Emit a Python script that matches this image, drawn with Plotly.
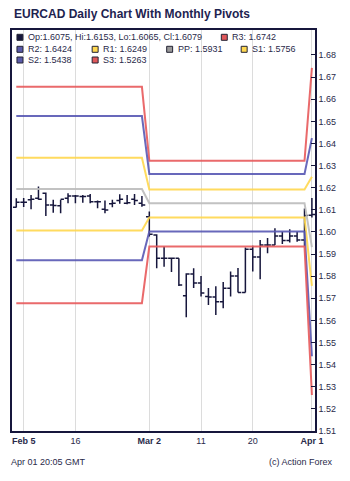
import plotly.graph_objects as go

# ---------------- data ----------------
bar_index = list(range(41))
opens = [1.6112, 1.6134, 1.6145, 1.6152, 1.6175, 1.6122, 1.6118, 1.6152, 1.6163, 1.6160,
         1.6163, 1.6137, 1.6103, 1.6127, 1.6142, 1.6130, 1.6148, 1.6130,
         1.6069, 1.5986, 1.5881, 1.5881, 1.5881, 1.5711, 1.5810, 1.5769, 1.5708, 1.5706,
         1.5684, 1.5745, 1.5801, 1.5726, 1.5922, 1.5887, 1.5941, 1.5941, 1.5982, 1.5961,
         1.5982, 1.5964, 1.6075]
highs = [1.6152, 1.6154, 1.6167, 1.6205, 1.6178, 1.6145, 1.6145, 1.6175, 1.6167, 1.6167,
         1.6172, 1.6142, 1.6142, 1.6145, 1.6170, 1.6167, 1.6172, 1.6163,
         1.6092, 1.5990, 1.5934, 1.5881, 1.5881, 1.5813, 1.5836, 1.5801, 1.5747, 1.5754,
         1.5774, 1.5821, 1.5837, 1.5930, 1.5937, 1.5964, 1.5973, 1.6017, 1.6001, 1.6012,
         1.6001, 1.6106, 1.6153]
lows = [1.6110, 1.6113, 1.6103, 1.6145, 1.6072, 1.6087, 1.6085, 1.6130, 1.6130, 1.6132,
        1.6130, 1.6107, 1.6085, 1.6112, 1.6127, 1.6125, 1.6122, 1.6114,
        1.5979, 1.5836, 1.5843, 1.5819, 1.5756, 1.5614, 1.5747, 1.5708, 1.5670, 1.5625,
        1.5655, 1.5708, 1.5726, 1.5726, 1.5821, 1.5786, 1.5904, 1.5941, 1.5946, 1.5952,
        1.5956, 1.5934, 1.6065]
closes = [1.6134, 1.6134, 1.6148, 1.6148, 1.6122, 1.6119, 1.6148, 1.6163, 1.6163, 1.6160,
          1.6137, 1.6137, 1.6099, 1.6130, 1.6148, 1.6132, 1.6142, 1.6122,
          1.5990, 1.5881, 1.5881, 1.5881, 1.5760, 1.5810, 1.5769, 1.5724, 1.5706, 1.5684,
          1.5745, 1.5801, 1.5726, 1.5922, 1.5887, 1.5941, 1.5941, 1.5982, 1.5961, 1.5982,
          1.5964, 1.6074, 1.6079]

# month of each bar: 0 = Feb, 1 = Mar, 2 = Apr
bar_month = [0] * 18 + [1] * 22 + [2]

pivot_names = ["R3", "R2", "R1", "PP", "S1", "S2", "S3"]
pivots_feb = [1.6656, 1.6524, 1.6335, 1.6194, 1.6006, 1.5872, 1.5678]
pivots_mar = [1.6322, 1.6262, 1.6192, 1.6130, 1.6065, 1.6002, 1.5934]
pivots_apr = [1.6742, 1.6424, 1.6249, 1.5931, 1.5756, 1.5438, 1.5263]

tick_positions = [1, 8, 18, 25, 32, 40]
tick_labels = ["<b>Feb 5</b>", "16", "<b>Mar 2</b>", "11", "20", "<b>Apr 1</b>"]
y_ticks = [1.51, 1.52, 1.53, 1.54, 1.55, 1.56, 1.57, 1.58, 1.59, 1.60,
           1.61, 1.62, 1.63, 1.64, 1.65, 1.66, 1.67, 1.68]

# ---------------- styles ----------------
NAVY = "#16163c"
TEXT = "#2a2a4a"
FONT = "Arial, Liberation Sans, sans-serif"
pivot_colors = ["#e85a5c", "#5858b4", "#ffd84e", "#bcbcbc", "#ffd84e", "#5858b4", "#e85a5c"]
square_colors = ["#e0585a", "#5a5aaa", "#ffd850", "#999999", "#ffd850", "#5a5aaa", "#e0585a"]

W, H = 350, 481
ML, MR, MT, MB = 10, 35, 30, 50
PW, PH = W - ML - MR, H - MT - MB


def px(x):
    return (x - ML) / PW


def py(y):
    return (H - MB - y) / PH


fig = go.Figure()

monthly = [pivots_feb, pivots_mar, pivots_apr]
for k, name in enumerate(pivot_names):
    ys = [monthly[m][k] for m in bar_month]
    fig.add_trace(go.Scatter(x=bar_index, y=ys, mode="lines",
                             line=dict(color=pivot_colors[k], width=2),
                             opacity=0.9, showlegend=False, hoverinfo="skip"))

fig.add_trace(go.Ohlc(x=bar_index, open=opens, high=highs, low=lows, close=closes,
                      increasing=dict(line=dict(color=NAVY, width=1.5)),
                      decreasing=dict(line=dict(color=NAVY, width=1.5)),
                      tickwidth=0.45, showlegend=False))

fig.update_layout(
    width=W, height=H,
    margin=dict(l=ML, r=MR, t=MT, b=MB),
    paper_bgcolor="white", plot_bgcolor="white",
    font=dict(family=FONT, size=9, color=TEXT),
    showlegend=False,
    xaxis=dict(range=[-0.58, 40.42], tickvals=tick_positions, ticktext=tick_labels,
               showgrid=True, gridcolor="#dcdcdc", gridwidth=1, zeroline=False,
               showline=True, linecolor=NAVY, linewidth=1.5, mirror=True,
               ticks="", rangeslider=dict(visible=False),
               tickfont=dict(family=FONT, size=9, color=TEXT)),
    yaxis=dict(range=[1.51, 1.6913], side="right", tickvals=y_ticks, tickformat=".2f",
               showgrid=False, zeroline=False, showline=True, linecolor=NAVY,
               linewidth=1.5, mirror=True, ticks="inside", ticklen=4, tickcolor=NAVY,
               tickfont=dict(family=FONT, size=9, color=TEXT)),
)

# title
fig.add_annotation(text="<b>EURCAD Daily Chart With Monthly Pivots</b>", xref="paper", yref="paper",
                   x=px(10), y=py(14), xanchor="left", yanchor="middle", showarrow=False,
                   font=dict(family=FONT, size=12, color="#1e2350"))

# legend
ohlc_text = "Op:%.4f, Hi:%.4f, Lo:%.4f, Cl:%.4f" % (opens[-1], highs[-1], lows[-1], closes[-1])
legend_items = [(15, 37.3, NAVY, ohlc_text)]
legend_slots = {"R3": (220.7, 37.3), "R2": (15, 49.3), "R1": (90.7, 49.3), "PP": (165.7, 49.3),
                "S1": (240.7, 49.3), "S2": (15, 60), "S3": (90.7, 60)}
for k, name in enumerate(pivot_names):
    sx, sy = legend_slots[name]
    legend_items.append((sx, sy, square_colors[k], "%s: %.4f" % (name, pivots_apr[k])))

for sx, sy, col, txt in legend_items:
    fig.add_shape(type="rect", xref="paper", yref="paper",
                  x0=px(sx), x1=px(sx + 6), y0=py(sy + 3), y1=py(sy - 3),
                  fillcolor=col, line=dict(color="#222233", width=1))
    fig.add_annotation(text=txt, xref="paper", yref="paper", x=px(sx + 9), y=py(sy),
                       xanchor="left", yanchor="middle", showarrow=False,
                       font=dict(family=FONT, size=9, color=TEXT))

# footer
fig.add_annotation(text="Apr 01 20:05 GMT", xref="paper", yref="paper", x=px(7), y=py(462),
                   xanchor="left", yanchor="middle", showarrow=False,
                   font=dict(family=FONT, size=9, color=TEXT))
fig.add_annotation(text="(c) Action Forex", xref="paper", yref="paper", x=px(335), y=py(462),
                   xanchor="right", yanchor="middle", showarrow=False,
                   font=dict(family=FONT, size=9, color=TEXT))

fig.write_html("out.html")
